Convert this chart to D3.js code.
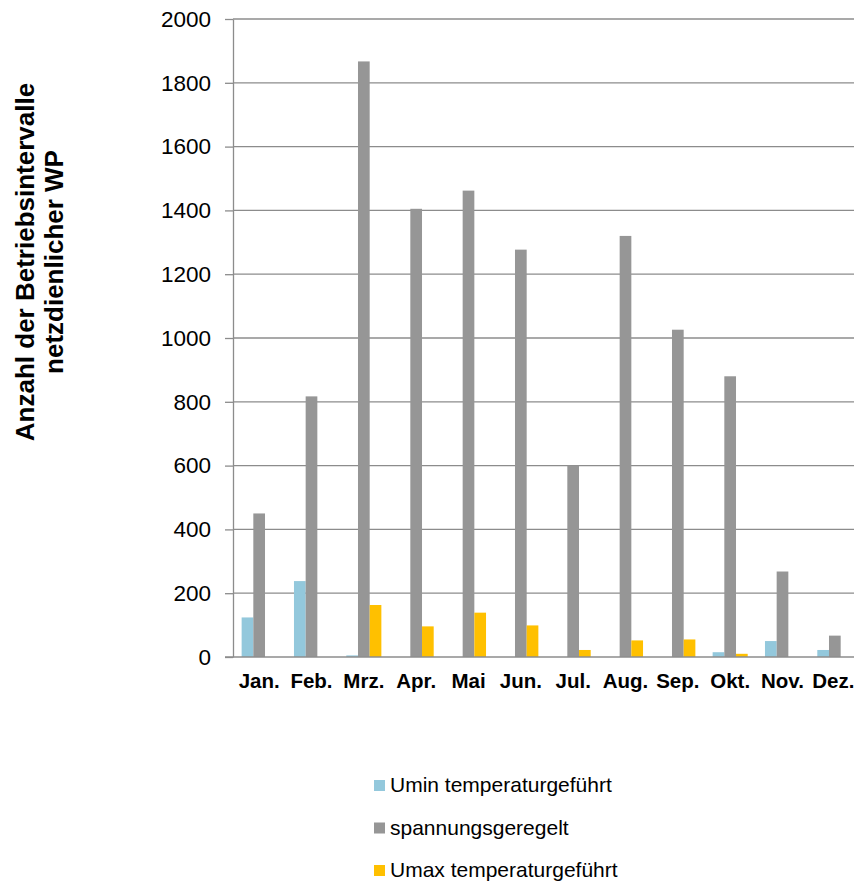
<!DOCTYPE html>
<html>
<head>
<meta charset="utf-8">
<script src="https://cdn.jsdelivr.net/npm/d3@7"></script>
<style>
  html, body { margin: 0; padding: 0; background: #fff; }
  svg { display: block; font-family: "Liberation Sans", Arial, sans-serif; }
</style>
</head>
<body>
<svg id="chart" width="854" height="882"></svg>
<script>
const months = ["Jan.", "Feb.", "Mrz.", "Apr.", "Mai", "Jun.", "Jul.", "Aug.", "Sep.", "Okt.", "Nov.", "Dez."];
const seriesNames = ["Umin temperaturgeführt", "spannungsgeregelt", "Umax temperaturgeführt"];
const uminValues = [124, 238, 5, 0, 0, 0, 0, 0, 0, 15, 50, 22];
const spannValues = [450, 817, 1867, 1405, 1462, 1277, 600, 1320, 1026, 880, 268, 67];
const umaxValues = [0, 0, 163, 96, 139, 99, 22, 52, 55, 10, 0, 0];
const yTicks = [0, 200, 400, 600, 800, 1000, 1200, 1400, 1600, 1800, 2000];
const colors = ["#93C8DC", "#969696", "#FFC000"];

const seriesValues = [uminValues, spannValues, umaxValues];

const svg = d3.select("#chart");
const plotLeft = 233, plotRight = 861, plotTop = 19, plotBottom = 657;

const x = d3.scaleBand().domain(months).range([plotLeft, plotRight]).paddingInner(0).paddingOuter(0);
const y = d3.scaleLinear().domain([0, 2000]).range([plotBottom, plotTop]);
const groupPad = 0.165;
const xs = d3.scaleBand().domain(d3.range(3))
  .range([x.bandwidth() * groupPad, x.bandwidth() * (1 - groupPad)]);

// gridlines
svg.append("g").selectAll("line").data(yTicks.filter(d => d > 0)).join("line")
  .attr("x1", plotLeft).attr("x2", 854)
  .attr("y1", d => y(d)).attr("y2", d => y(d))
  .attr("stroke", "#8C8C8C").attr("stroke-width", 1.3);

// y axis
const yAxis = d3.axisLeft(y).tickValues(yTicks).tickFormat(d3.format("d"))
  .tickSize(8).tickPadding(14).tickSizeOuter(0);
const yg = svg.append("g").attr("transform", `translate(${plotLeft},0)`).call(yAxis);
yg.select(".domain").attr("stroke", "#8C8C8C").attr("stroke-width", 1.3);
yg.selectAll(".tick line").attr("stroke", "#8C8C8C").attr("stroke-width", 1.3);
yg.selectAll(".tick text").attr("font-size", 22.5).attr("fill", "#000")
  .attr("font-family", "Liberation Sans, Arial, sans-serif");

// bars
const groups = svg.append("g").selectAll("g").data(months).join("g")
  .attr("transform", d => `translate(${x(d)},0)`);
groups.selectAll("rect").data((m, i) => seriesValues.map((vals, s) => ({s, v: vals[i]})))
  .join("rect")
  .attr("x", d => xs(d.s))
  .attr("width", xs.bandwidth())
  .attr("y", d => y(d.v))
  .attr("height", d => plotBottom - y(d.v))
  .attr("fill", d => colors[d.s]);

// x axis
const xAxis = d3.axisBottom(x).tickSize(0).tickPadding(16).tickSizeOuter(0);
const xg = svg.append("g").attr("transform", `translate(0,${plotBottom})`).call(xAxis);
xg.select(".domain").remove();
xg.append("line").attr("x1", 225).attr("x2", 854).attr("y1", 0).attr("y2", 0)
  .attr("stroke", "#8C8C8C").attr("stroke-width", 1.3);
xg.selectAll(".tick text").attr("font-size", 20.5).attr("font-weight", "bold").attr("fill", "#000")
  .attr("font-family", "Liberation Sans, Arial, sans-serif");
xg.selectAll(".tick").filter(d => d === "Dez.").select("text").attr("dx", -1.5);

// y title
const title = svg.append("text")
  .attr("transform", "translate(0,262) rotate(-90)")
  .attr("text-anchor", "middle")
  .attr("font-size", 26).attr("font-weight", "bold").attr("fill", "#000");
title.append("tspan").attr("x", 0).attr("y", 34).text("Anzahl der Betriebsintervalle");
title.append("tspan").attr("x", 0).attr("y", 63).text("netzdienlicher WP");

// legend
const legend = svg.append("g").attr("transform", "translate(374,0)");
const items = legend.selectAll("g").data(seriesNames).join("g")
  .attr("transform", (d, i) => `translate(0,${792 + i * 42.5})`);
items.append("rect").attr("x", 0).attr("y", -12).attr("width", 11).attr("height", 11)
  .attr("fill", (d, i) => colors[i]);
items.append("text").attr("x", 16).attr("y", 0).attr("font-size", 21).attr("fill", "#000").text(d => d);
</script>
</body>
</html>
